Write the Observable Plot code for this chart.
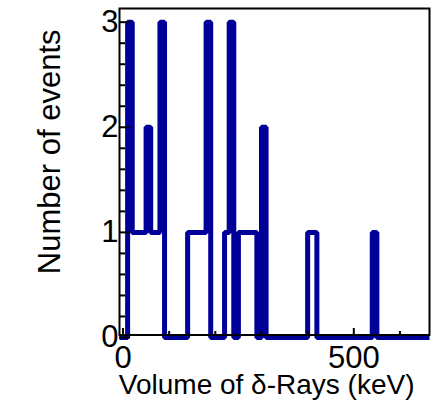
<!DOCTYPE html>
<html><head><meta charset="utf-8">
<script src="https://cdn.jsdelivr.net/npm/d3@7"></script>
<script src="https://cdn.jsdelivr.net/npm/@observablehq/plot@0.6"></script>
<style>body{margin:0;background:#fff}</style>
</head><body><div id="chart"></div>
<script>
// Histogram: bins of 10 keV, lower edges of non-empty bins and their counts
const binWidth = 10;
const binStarts = [10, 20, 30, 40, 50, 60, 70, 80, 140, 150, 160, 170, 180, 220, 230, 250, 260, 270, 280, 300, 400, 410, 540];
const binCounts = [3, 1, 1, 1, 2, 1, 1, 3, 1, 1, 1, 1, 3, 1, 3, 1, 1, 1, 1, 2, 1, 1, 1];
const xDomain = [-7.6, 664];
const yDomain = [0, 3.13];
const xMajorTicks = [0, 500];
const xMinorTicks = [100, 200, 300, 400, 600];
const yMajorTicks = [0, 1, 2, 3];
const yMinorTicks = [0.2, 0.4, 0.6, 0.8, 1.2, 1.4, 1.6, 1.8, 2.2, 2.4, 2.6, 2.8];
const xLabel = "Volume of δ-Rays (keV)";
const yLabel = "Number of events";

const countAt = new Map(binStarts.map((s, i) => [s, binCounts[i]]));
const points = [{x: xDomain[0], y: 0}];
for (let e = 0; e < xDomain[1]; e += binWidth) points.push({x: e, y: countAt.get(e) || 0});
points.push({x: xDomain[1], y: 0});

const W = 441, H = 411, mL = 119, mR = 12, mT = 8, mB = 74;
const pw = W - mL - mR, ph = H - mT - mB;

const chart = Plot.plot({
  width: W, height: H,
  marginLeft: mL, marginRight: mR, marginTop: mT, marginBottom: mB,
  x: {domain: xDomain},
  y: {domain: yDomain},
  style: {fontFamily: "'Liberation Sans', Arial, sans-serif", background: "white", color: "black"},
  marks: [
    Plot.line(points, {x: "x", y: "y", curve: "step-after", stroke: "#000099", strokeWidth: 5, strokeLinejoin: "miter", strokeLinecap: "butt"}),
    Plot.frame({stroke: "black", strokeWidth: 2, insetBottom: 2.5}),
    Plot.tickY(yMajorTicks, {y: d => d, insetRight: pw - 11, stroke: "black", strokeWidth: 2}),
    Plot.tickY(yMinorTicks, {y: d => d, insetRight: pw - 6, stroke: "black", strokeWidth: 2}),
    Plot.tickX(xMajorTicks, {x: d => d, insetTop: ph - 9, insetBottom: 2.5, stroke: "black", strokeWidth: 2}),
    Plot.tickX(xMinorTicks, {x: d => d, insetTop: ph - 6, insetBottom: 2.5, stroke: "black", strokeWidth: 2}),
    Plot.axisY(yMajorTicks, {tickSize: 0, tickPadding: 1, fontSize: 31, tickFormat: d3.format("d"), label: null}),
    Plot.axisX(xMajorTicks, {tickSize: 0, tickPadding: 8, fontSize: 31, tickFormat: d3.format("d"), label: null}),
    Plot.text([yLabel], {frameAnchor: "top-left", rotate: -90, textAnchor: "end", dx: -82, dy: 21, fontSize: 31}),
    Plot.text([xLabel], {frameAnchor: "bottom-right", textAnchor: "end", dx: -15, dy: 56, fontSize: 28})
  ]
});
document.getElementById("chart").appendChild(chart);
</script>
</body></html>
